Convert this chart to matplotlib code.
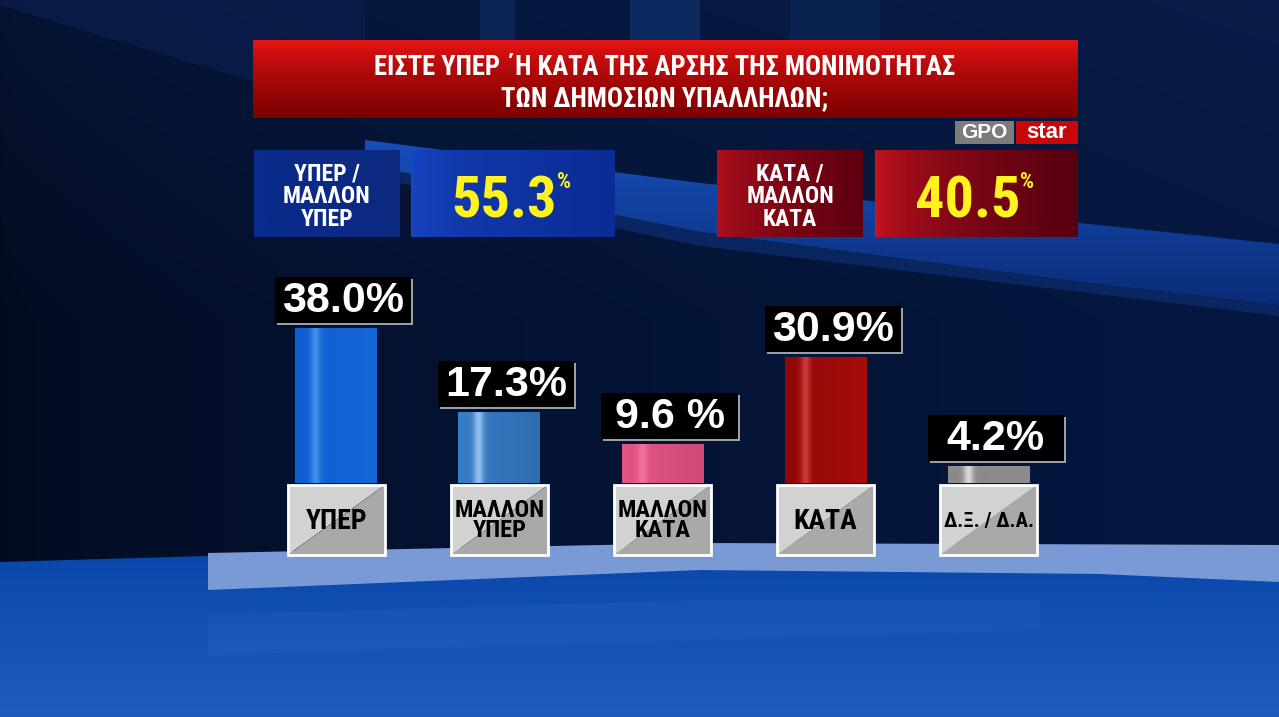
import numpy as np
import matplotlib
matplotlib.use('Agg')
import matplotlib.pyplot as plt
import matplotlib.font_manager as fm
from matplotlib.patches import Rectangle, Polygon
from matplotlib.colors import to_rgb

# ---------------- data ----------------
categories = ['ΥΠΕΡ', 'ΜΑΛΛΟΝ\nΥΠΕΡ', 'ΜΑΛΛΟΝ\nΚΑΤΑ', 'ΚΑΤΑ', 'Δ.Ξ. / Δ.Α.']
values = [38.0, 17.3, 9.6, 30.9, 4.2]
value_labels = ['38.0%', '17.3%', '9.6 %', '30.9%', '4.2%']
bar_colors = [('#0e5fd0', '#4f9cf2', '#1565d8'),
              ('#3a7cc8', '#a8d2ff', '#2f6cb0'),
              ('#e25585', '#f77aa3', '#d24a7a'),
              ('#8e0606', '#d84545', '#a80c0c'),
              ('#8a8a8a', '#ececec', '#8c8c8c')]
summary_labels = ['ΥΠΕΡ /\nΜΑΛΛΟΝ\nΥΠΕΡ', 'ΚΑΤΑ /\nΜΑΛΛΟΝ\nΚΑΤΑ']
summary_values = [values[0] + values[1], values[2] + values[3]]
title = 'ΕΙΣΤΕ ΥΠΕΡ ΄Η ΚΑΤΑ ΤΗΣ ΑΡΣΗΣ ΤΗΣ ΜΟΝΙΜΟΤΗΤΑΣ\nΤΩΝ ΔΗΜΟΣΙΩΝ ΥΠΑΛΛΗΛΩΝ;'
logo = ['GPO', 'star']


# ---------------- fonts ----------------
def _w(v):
    if isinstance(v, (int, float)):
        return v
    return fm.weight_dict.get(v, 400)


def _s(v):
    if isinstance(v, (int, float)):
        return v
    return fm.stretch_dict.get(v, 500)


def find_condensed():
    names = {f.name for f in fm.fontManager.ttflist}
    for p in ['Liberation Sans Narrow', 'Roboto Condensed', 'Open Sans Condensed',
              'Noto Sans Condensed', 'DejaVu Sans Condensed', 'Arial Narrow']:
        if p in names:
            return dict(family=[p, 'DejaVu Sans'])
    cands = []
    for f in fm.fontManager.ttflist:
        n = f.name
        if 'CJK' in n or 'Mono' in n or 'Serif' in n or f.style != 'normal':
            continue
        cond = _s(f.stretch) < 500 or any(k in n for k in ('Condensed', 'Narrow', 'Cond'))
        if cond and _w(f.weight) >= 600:
            cands.append((_s(f.stretch), n, f.stretch))
    if cands:
        cands.sort()
        st, n, stv = cands[0]
        return dict(family=[n, 'DejaVu Sans'], fontstretch=stv)
    return dict(family=['Liberation Sans', 'DejaVu Sans'])


NARROW = find_condensed()
WIDE = dict(family=['Liberation Sans', 'DejaVu Sans'])
HEAVY = 'black'

W, H = 1279, 717
fig = plt.figure(figsize=(W / 100, H / 100), dpi=100)
renderer = fig.canvas.get_renderer()


def fit(t, target_w):
    w = t.get_window_extent(renderer=renderer).width
    if w > target_w:
        t.set_fontsize(t.get_fontsize() * target_w / w)
    return t


# ---------------- background (pixel coordinates) ----------------
bg = fig.add_axes([0, 0, 1, 1])
bg.set_xlim(0, W)
bg.set_ylim(H, 0)
bg.axis('off')

yy, xx = np.mgrid[0:H, 0:W]
fx = xx / W
left = np.array(to_rgb('#020a1c'))
right = np.array(to_rgb('#061840'))
img = left[None, None, :] * (1 - fx[..., None] ** 0.5) + right[None, None, :] * fx[..., None] ** 0.5
# slightly lighter navy in the upper part
fy = np.clip(1 - yy / 320.0, 0, 1)[..., None]
img = img * (1 - 0.35 * fy) + np.array(to_rgb('#0b2252')) * 0.35 * fy
# lighter wedge above the diagonal at top-left
mask = (yy < (xx * 0.30 + 5)) & (xx < 365)
img[mask] = img[mask] * 0.4 + np.array(to_rgb('#0a2050')) * 0.6
bg.imshow(img, extent=(0, W, H, 0), aspect='auto', zorder=0, interpolation='bilinear')


def grad(ax, x0, y0, x1, y1, c0, c1, vertical=True, z=1, clip=None, alpha=1.0, power=1.0):
    n = 256
    t = np.linspace(0, 1, n) ** power
    a = np.array(to_rgb(c0))
    b = np.array(to_rgb(c1))
    cols = a[None, :] * (1 - t[:, None]) + b[None, :] * t[:, None]
    arr = cols[:, None, :] if vertical else cols[None, :, :]
    im = ax.imshow(arr, extent=(x0, x1, y1, y0), aspect='auto', zorder=z,
                   interpolation='bilinear', alpha=alpha)
    if clip is not None:
        im.set_clip_path(clip)
    return im


# top columns
for (x0, x1, c) in [(480, 515, '#0b2354'), (630, 700, '#0d2a60'), (790, 880, '#0a2250')]:
    bg.add_patch(Rectangle((x0, 0), x1 - x0, 40, color=c, zorder=1, lw=0))

# blue streak band behind the top boxes
band = Polygon([(365, 140), (700, 183), (1279, 244), (1279, 305), (1080, 282),
                (700, 232), (365, 165)], closed=True, facecolor='none', lw=0)
bg.add_patch(band)
grad(bg, 365, 140, 1279, 305, '#164fb8', '#0b2c78', vertical=True, z=1, clip=band)
band2 = Polygon([(365, 165), (700, 232), (1080, 282), (1279, 305), (1279, 316),
                 (700, 246), (365, 176)], closed=True, facecolor='#092660', lw=0, zorder=1)
bg.add_patch(band2)

# floor
floor = Polygon([(0, 562), (208, 556), (700, 546), (1279, 548), (1279, H), (0, H)],
                closed=True, facecolor='none', lw=0)
bg.add_patch(floor)
grad(bg, 0, 540, W, H, '#0845aa', '#1e5cbc', vertical=True, z=1, clip=floor)
strip = Polygon([(208, 553), (700, 543), (1279, 545), (1279, 582), (1100, 574),
                 (700, 570), (208, 590)], closed=True, facecolor='#7a9ad6', lw=0, zorder=1.5)
bg.add_patch(strip)
refl = Polygon([(208, 615), (700, 600), (1040, 600), (1040, 630), (700, 640), (208, 655)],
               closed=True, facecolor='#3a70c8', lw=0, zorder=1.5, alpha=0.18)
bg.add_patch(refl)

# ---------------- title box ----------------
tb = Rectangle((253, 40), 825, 78, facecolor='none', lw=0)
bg.add_patch(tb)
grad(bg, 253, 40, 1078, 118, '#ee1515', '#7c0000', vertical=True, z=3, clip=tb, power=0.7)
tt = bg.text(665, 83, title, ha='center', va='center', color='white', fontsize=23,
             fontweight=HEAVY, linespacing=1.2, zorder=5, **NARROW)
fit(tt, 585)

# logo
bg.add_patch(Rectangle((955, 121), 59, 23, facecolor='#7c7c7c', lw=0, zorder=3))
bg.add_patch(Rectangle((1016, 121), 62, 23, facecolor='#c80808', lw=0, zorder=3))
fit(bg.text(984.5, 133, logo[0], ha='center', va='center', color='white', fontsize=15,
            fontweight='bold', zorder=5, **WIDE), 48)
fit(bg.text(1047, 132, logo[1], ha='center', va='center', color='white', fontsize=16,
            fontweight='bold', zorder=5, **WIDE), 51)

# ---------------- summary boxes ----------------
summ_boxes = [((254, 150, 400, 237), (411, 150, 615, 237), ('#0a2a90', '#0c2a80'), ('#1747c4', '#0b2c96')),
              ((717, 150, 863, 237), (875, 150, 1078, 237), ('#b4101e', '#5e0010'), ('#d01520', '#560010'))]
for i, (lb, vb, lc, vc) in enumerate(summ_boxes):
    r1 = Rectangle((lb[0], lb[1]), lb[2] - lb[0], lb[3] - lb[1], facecolor='none', lw=0)
    bg.add_patch(r1)
    grad(bg, lb[0], lb[1], lb[2], lb[3], lc[0], lc[1], vertical=False, z=3, clip=r1, power=0.6)
    r2 = Rectangle((vb[0], vb[1]), vb[2] - vb[0], vb[3] - vb[1], facecolor='none', lw=0)
    bg.add_patch(r2)
    grad(bg, vb[0], vb[1], vb[2], vb[3], vc[0], vc[1], vertical=False, z=3, clip=r2, power=0.5)
    st = bg.text((lb[0] + lb[2]) / 2, (lb[1] + lb[3]) / 2 + 3, summary_labels[i], ha='center',
                 va='center', color='white', fontsize=17, fontweight=HEAVY, linespacing=1.0,
                 zorder=5, **NARROW)
    fit(st, 98)
    cx = (vb[0] + vb[2]) / 2 - 9
    nt = bg.text(cx, 218, f'{summary_values[i]:.1f}', ha='center', va='baseline', color='#fff21e',
                 fontsize=42, fontweight=HEAVY, zorder=5, **NARROW)
    fit(nt, 113)
    bg.annotate('%', xy=(1, 1), xycoords=nt, xytext=(0, 3), textcoords='offset points',
                ha='left', va='top', color='#fff21e', fontsize=16, fontweight=HEAVY,
                zorder=5, **NARROW)

# ---------------- bar chart ----------------
base_px = 483
px_per_unit = 4.08
ymax = 50
x_left, x_right = 254.5, 1070.5
ax = fig.add_axes([x_left / W, (H - base_px) / H, (x_right - x_left) / W, ymax * px_per_unit / H])
ax.set_xlim(-0.5, len(values) - 0.5)
ax.set_ylim(0, ymax)
ax.axis('off')
ax.patch.set_alpha(0)

xs = np.arange(len(values))
bars = ax.bar(xs, values, width=0.5, color=[c[0] for c in bar_colors], lw=0, zorder=2)
for b, (c0, c1, c2) in zip(bars, bar_colors):
    x0, w, h = b.get_x(), b.get_width(), b.get_height()
    t = np.linspace(0, 1, 200)
    a0, a1, a2 = (np.array(to_rgb(c)) for c in (c0, c1, c2))
    prof = np.exp(-((t - 0.25) / 0.06) ** 2)
    cols = a0[None, :] * (1 - t[:, None]) + a2[None, :] * t[:, None]
    cols = cols * (1 - prof[:, None] * 0.8) + a1[None, :] * prof[:, None] * 0.8
    im = ax.imshow(cols[None, :, :], extent=(x0, x0 + w, 0, h), aspect='auto', zorder=3,
                   interpolation='bilinear')
    im.set_clip_path(b)

# value label boxes
box_w, box_h = 136 / 163, 46 / px_per_unit
vtexts = []
for x, v, lab in zip(xs, values, value_labels):
    bx = x + 7 / 163 - box_w / 2
    by = v + 5 / px_per_unit
    ax.add_patch(Rectangle((bx + 2 / 163, by - 2 / px_per_unit), box_w, box_h, facecolor='#9aa0aa',
                           lw=0, zorder=4, clip_on=False))
    ax.add_patch(Rectangle((bx, by), box_w, box_h, facecolor='black', lw=0, zorder=5, clip_on=False))
    vt = ax.text(bx + box_w / 2, by + box_h / 2 - 0.2, lab, ha='center', va='center', color='white',
                 fontsize=31, fontweight='bold', zorder=6, clip_on=False, **WIDE)
    vtexts.append(vt)
fit(vtexts[0], 123)
for vt in vtexts[1:]:
    vt.set_fontsize(vtexts[0].get_fontsize())

# category label boxes
cw = 97 / 163
ctop = -0.5
cbot = -(555 - base_px) / px_per_unit
for x, cat in zip(xs, categories):
    x0, x1 = x - cw / 2, x + cw / 2
    ax.add_patch(Polygon([(x0, ctop), (x1, ctop), (x0, cbot)], closed=True, facecolor='#d2d2d2',
                         lw=0, zorder=4, clip_on=False))
    ax.add_patch(Polygon([(x1, ctop), (x1, cbot), (x0, cbot)], closed=True, facecolor='#a9a9a9',
                         lw=0, zorder=4, clip_on=False))
    ax.add_patch(Rectangle((x0, cbot), cw, ctop - cbot, facecolor='none', edgecolor='white',
                           lw=2, zorder=5, clip_on=False))
    multi = '\n' in cat
    ct = ax.text(x, (ctop + cbot) / 2 - (0.2 if multi else 0.4), cat, ha='center', va='center',
                 color='black', fontsize=19 if multi else 20, fontweight=HEAVY,
                 linespacing=0.85, zorder=6, clip_on=False, **NARROW)
    fit(ct, 90)

fig.savefig('out.png', dpi=100)
